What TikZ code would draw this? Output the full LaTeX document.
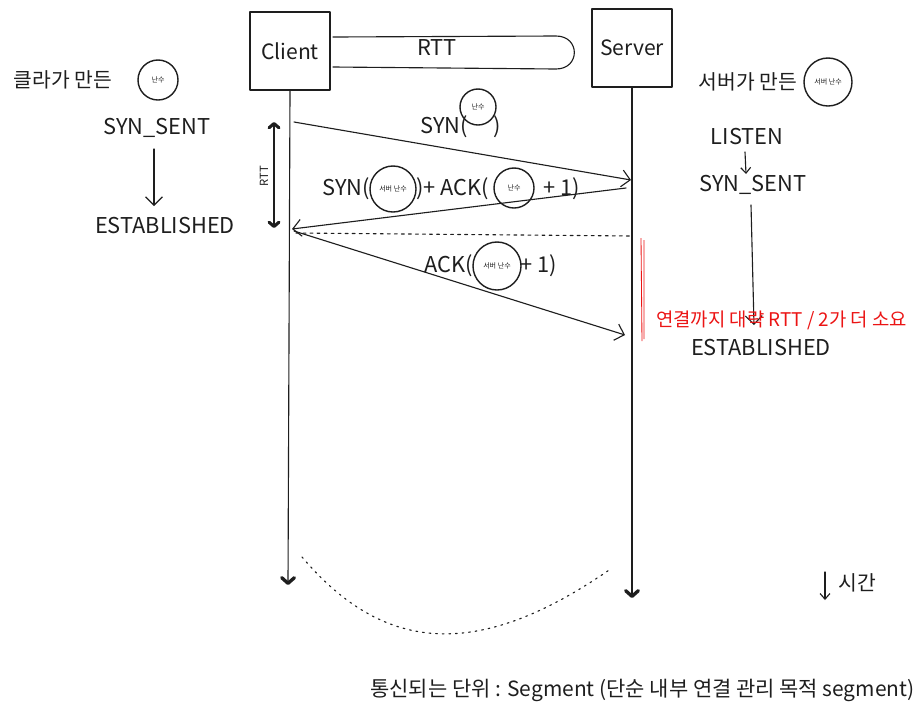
\documentclass[tikz,border=0pt]{standalone}
\usepackage{fontspec}
\setmainfont{Noto Sans CJK KR}
\usepackage{tikz}
\usetikzlibrary{arrows.meta}
\definecolor{inkc}{RGB}{30,30,30}
\definecolor{notec}{RGB}{235,20,20}
\tikzset{
  hand/.style={inkc,line width=0.8pt,line cap=round,line join=round},
  actor/.style={draw,hand,minimum width=2cm,minimum height=1.95cm,inner sep=0pt,font=\fontsize{15}{17}\selectfont},
  lbl/.style={inkc,inner sep=0pt,font=\fontsize{15.5}{17}\selectfont},
  kor/.style={inkc,inner sep=0pt,font=\fontsize{14.5}{16}\selectfont},
  rnd/.style={draw,circle,hand,line width=1pt,inner sep=0pt,font=\fontsize{5}{6}\selectfont},
  msg/.style={hand,-{Straight Barb[length=6pt,width=12pt]}},
  life/.style={hand,-{Straight Barb[length=4pt,width=9pt,line width=2.4pt,round]}},
}
\begin{document}
\begin{tikzpicture}[x=0.025cm,y=-0.025cm]
\useasboundingbox (0,0) rectangle (922,713);
% actors and life lines
\node[actor] (cli) at (290,51) {Client};
\node[actor] (srv) at (632,48) {Server};
\coordinate (cend) at (288,585); \coordinate (send) at (632,598);
\draw[life] (cli.south) -- (cend);
\draw[life] (srv.south) -- (send);
% RTT loop between the boxes
\draw[hand] (333,37) -- (556,36) to[out=0,in=0,looseness=1.9] (556,69) -- (333,67);
\node[lbl] (rtt) at (437,48) {RTT};
% RTT on client side
\coordinate (rtop) at (274,122); \coordinate (rbot) at (274,228);
\draw[hand,{Straight Barb[length=3pt,width=7pt,line width=2.2pt,round]}-{Straight Barb[length=3pt,width=7pt,line width=2.2pt,round]}] (rtop) -- (rbot);
\node[inkc,rotate=90,font=\fontsize{8}{9}\selectfont] (rttv) at (264,176) {RTT};
% messages
\coordinate (m1a) at (294,122); \coordinate (m1b) at (631,180);
\coordinate (m2a) at (626,188); \coordinate (m2b) at (292,229);
\coordinate (m3a) at (294,231); \coordinate (m3b) at (625,335);
\draw[msg] (m1a) -- (m1b);
\draw[msg] (m2a) -- (m2b);
\draw[msg] (m3a) -- (m3b);
\coordinate (dota) at (296,233); \coordinate (dotb) at (632,236);
\draw[hand,dash pattern=on 2pt off 3pt] (dota) -- (dotb);
% message labels
\node[lbl,anchor=east] (syn1) at (468,127) {SYN(};
\node[rnd,minimum size=0.9cm] (n1) at (478,107) {난수};
\node[lbl] (syn1c) at (497,127) {)};
\node[lbl,anchor=east] (syn2) at (370,189) {SYN(};
\node[rnd,minimum size=1.15cm] (n2) at (393,189) {서버 난수};
\node[lbl,anchor=west] (ack2) at (416,189) {)+ ACK(};
\node[rnd,minimum size=1.0cm] (n3) at (514,188) {난수};
\node[lbl,anchor=west] (ack2c) at (543,189) {+ 1)};
\node[lbl,anchor=east] (ack3) at (473,266) {ACK(};
\node[rnd,minimum size=1.2cm] (n4) at (497,266) {서버 난수};
\node[lbl,anchor=west] (ack3c) at (520,266) {+ 1)};
% client side states
\node[kor] (cmade) at (63,80) {클라가 만든};
\node[rnd,minimum size=1.0cm] (crnd) at (158,80) {난수};
\node[lbl] (csent) at (157,128) {SYN\_SENT};
\node[lbl] (cest) at (165,226) {ESTABLISHED};
\coordinate (ca) at (154,149); \coordinate (cb) at (154,206);
\draw[msg] (ca) -- (cb);
% server side states
\node[kor] (smade) at (748,82) {서버가 만든};
\node[rnd,minimum size=1.2cm] (srnd) at (828,82) {서버 난수};
\node[lbl] (slisten) at (747,137) {LISTEN};
\node[lbl] (ssent) at (753,185) {SYN\_SENT};
\node[lbl] (sest) at (761,348) {ESTABLISHED};
\coordinate (la) at (745,152); \coordinate (lb) at (746,174);
\draw[hand,-{Straight Barb[length=4pt,width=7pt]}] (la) -- (lb);
\coordinate (sa) at (751,205); \coordinate (sb) at (754,325);
\draw[msg] (sa) -- (sb);
% red note
\draw[notec,line width=0.6pt] (641,238) -- (642,341) (644,240) -- (644,339);
\node[notec,inner sep=0pt,font=\fontsize{13.4}{15}\selectfont,anchor=west] (note) at (656,320) {연결까지 대략 RTT / 2가 더 소요};
% continuation
\coordinate (ga) at (302,557); \coordinate (gb) at (612,568);
\draw[hand,dash pattern=on 1.2pt off 3.5pt] (ga) .. controls (385,655) and (480,660) .. (gb);
% time axis
\coordinate (ta) at (825,572); \coordinate (tb) at (825,600);
\draw[hand,-{Straight Barb[length=4pt,width=7pt]}] (ta) -- (tb);
\node[kor,anchor=west] (time) at (838,583) {시간};
% footer
\node[kor,anchor=west,font=\fontsize{14.9}{16}\selectfont] (foot) at (370,690) {통신되는 단위 : Segment (단순 내부 연결 관리 목적 segment)};
\end{tikzpicture}
\end{document}
